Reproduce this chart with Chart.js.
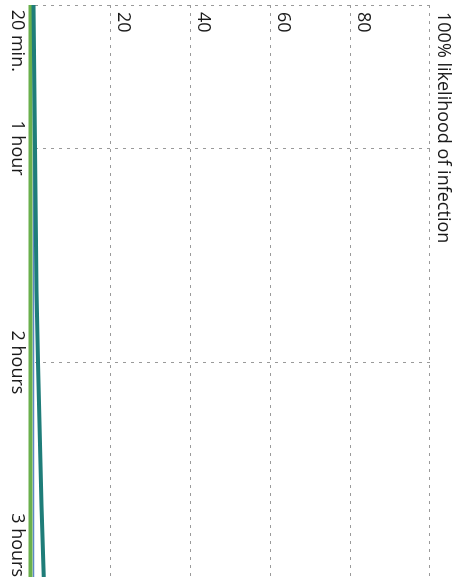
<!DOCTYPE html>
<html>
<head>
<meta charset="utf-8">
<script src="https://cdn.jsdelivr.net/npm/chart.js@4.4.0/dist/chart.umd.min.js"></script>
<style>
  html, body { margin: 0; padding: 0; background: #fff; overflow: hidden; }
  /* the chart is drawn upright, then turned a quarter turn clockwise */
  #wrap {
    position: absolute; left: 0; top: 0;
    width: 577px; height: 461px;
    transform-origin: 0 0;
    transform: translate(461px, 0) rotate(90deg);
  }
</style>
</head>
<body>
<div id="wrap"><canvas id="infection-chart" width="577" height="461"></canvas></div>
<script>
// time in minutes
const minutes = [20, 40, 60, 80, 100, 120, 140, 160, 180];
// likelihood of infection, %
const tealValues = [0.75, 0.92, 1.1, 1.3, 1.5, 1.85, 2.28, 2.75, 3.3];
const blueValues = [0.7, 0.7, 0.7, 0.7, 0.7, 0.7, 0.7, 0.7, 0.7];
const greenValues = [0, 0, 0, 0, 0, 0, 0, 0, 0];

const timeTicks = [20, 60, 120, 180];
const timeLabels = [' 20 min.', '1 hour', '2 hours', '3 hours'];
const percentTicks = [0, 20, 40, 60, 80, 100];

const toPoints = vals => vals.map((v, i) => ({ x: minutes[i], y: v }));

const gridStyle = {
  color: '#9a9a9a',
  lineWidth: 1,
  drawTicks: false,
  tickLength: 0
};

const ctx = document.getElementById('infection-chart').getContext('2d');

new Chart(ctx, {
  type: 'line',
  data: {
    datasets: [
      {
        data: toPoints(tealValues),
        borderColor: '#1f7d79',
        borderWidth: 4,
        pointRadius: 0,
        clip: false
      },
      {
        data: toPoints(greenValues),
        borderColor: '#6ab04c',
        borderWidth: 4,
        pointRadius: 0,
        clip: false
      },
      {
        data: toPoints(blueValues),
        borderColor: '#5d87c6',
        borderWidth: 1.5,
        pointRadius: 0,
        clip: false
      }
    ]
  },
  options: {
    responsive: false,
    animation: false,
    devicePixelRatio: 1,
    layout: { padding: { left: 5, right: 0, top: 31, bottom: 3 } },
    plugins: {
      legend: { display: false },
      tooltip: { enabled: false }
    },
    scales: {
      x: {
        type: 'linear',
        min: 20,
        max: 180,
        afterBuildTicks: axis => {
          axis.ticks = timeTicks.map(v => ({ value: v }));
        },
        afterFit: axis => {
          axis.paddingLeft = 0;
          axis.paddingRight = 0;
        },
        border: { display: false, dash: [3, 5] },
        grid: gridStyle,
        ticks: {
          align: 'inner',
          padding: 3,
          maxRotation: 0,
          autoSkip: false,
          color: '#1a1a1a',
          font: { family: '"Open Sans"', size: 18 },
          callback: v => timeLabels[timeTicks.indexOf(v)]
        }
      },
      y: {
        min: 0,
        max: 100,
        afterBuildTicks: axis => {
          axis.ticks = percentTicks.map(v => ({ value: v }));
        },
        afterFit: axis => {
          axis.width = 0;
          axis.paddingTop = 0;
          axis.paddingBottom = 0;
        },
        border: { display: false, dash: [3, 5] },
        grid: gridStyle,
        ticks: {
          mirror: true,
          padding: 7,
          labelOffset: -13,
          autoSkip: false,
          color: '#1a1a1a',
          font: { family: '"Open Sans"', size: 18 },
          callback: v => v === 0 ? '' : (v === 100 ? '100% likelihood of infection' : v)
        }
      }
    }
  }
});
</script>
</body>
</html>
